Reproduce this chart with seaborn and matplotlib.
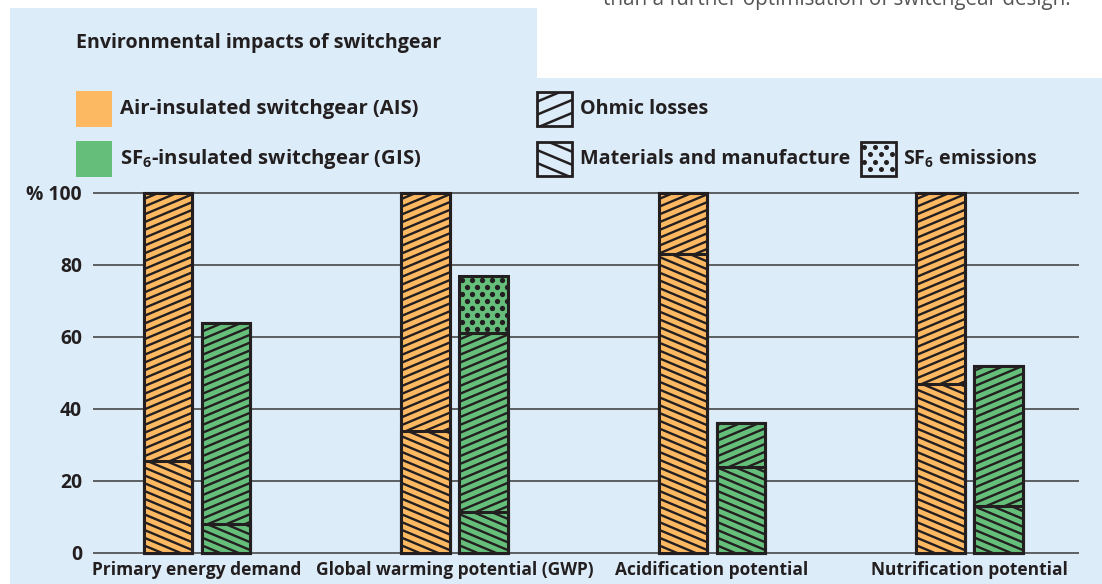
import numpy as np
import pandas as pd
import seaborn as sns
import matplotlib.pyplot as plt
from matplotlib.collections import LineCollection
from matplotlib.lines import Line2D
from matplotlib.patches import Rectangle
from matplotlib.transforms import IdentityTransform

W, H = 1102, 584

categories = ['Primary energy demand', 'Global warming potential (GWP)',
              'Acidification potential', 'Nutrification potential']
switchgear = ['AIS', 'GIS']
# values in % of AIS total, bottom to top: materials, ohmic losses, SF6 emissions
materials_ais = [25.5, 34, 83, 47]
ohmic_ais = [74.5, 66, 17, 53]
sf6_ais = [0, 0, 0, 0]
materials_gis = [8, 11.5, 24, 13]
ohmic_gis = [56, 49.5, 12, 39]
sf6_gis = [0, 16, 0, 0]
yticks = [0, 20, 40, 60, 80, 100]
ytick_labels = ['0', '20', '40', '60', '80', '% 100']

ORANGE = '#fdb962'
GREEN = '#65bf7b'
BLUE = '#dcecf8'
INK = '#231f20'
SLOPE = 0.42
FONT = 'Open Sans'

rows = []
for sg, parts in [('AIS', (materials_ais, ohmic_ais, sf6_ais)),
                  ('GIS', (materials_gis, ohmic_gis, sf6_gis))]:
    for i, cat in enumerate(categories):
        cum = 0
        for comp, vals in zip(['materials', 'ohmic', 'sf6'], parts):
            cum += vals[i]
            rows.append({'category': cat, 'switchgear': sg, 'component': comp, 'top': cum})
df = pd.DataFrame(rows)

sns.set_style('white')
plt.rcParams['font.family'] = [FONT, 'DejaVu Sans']
plt.rcParams['mathtext.fontset'] = 'custom'
plt.rcParams['mathtext.bf'] = FONT + ':bold'
plt.rcParams['mathtext.rm'] = FONT + ':bold'

fig = plt.figure(figsize=(W / 100, H / 100), dpi=100)
fig.patch.set_facecolor('white')


def fx(x):
    return x / W


def fy(y):
    return 1 - y / H


# background panel with the white cut-out at the top right
fig.add_artist(Rectangle((fx(10), 0), 1 - fx(10), fy(8), transform=fig.transFigure,
                         facecolor=BLUE, edgecolor='none', zorder=-10))
fig.add_artist(Rectangle((fx(537), fy(78)), 1 - fx(537), 1 - fy(78), transform=fig.transFigure,
                         facecolor='white', edgecolor='none', zorder=-9))
fig.text(fx(603), fy(5), 'than a further optimisation of switchgear design.',
         fontsize=14.9, color='#555555', va='baseline', ha='left', fontweight='normal')

ymin, ymax = -1, 101.5
px_unit = (553 - 193) / 100
ax_bottom = H - (553 + px_unit * (0 - ymin))
ax_top = H - (193 - px_unit * (ymax - 100))
ax = fig.add_axes([fx(93), ax_bottom / H, fx(1079) - fx(93), (ax_top - ax_bottom) / H])
ax.set_facecolor('none')

hatch_of = {'sf6': 'dots', 'ohmic': 'up', 'materials': 'down'}
layers = []
for z, comp in zip([2, 3, 4], ['sf6', 'ohmic', 'materials']):
    n0 = len(ax.patches)
    sns.barplot(data=df[df['component'] == comp], x='category', y='top', hue='switchgear',
                order=categories, hue_order=switchgear,
                palette={'AIS': ORANGE, 'GIS': GREEN}, saturation=1,
                width=0.4505, gap=0.156, errorbar=None, legend=False,
                edgecolor=INK, linewidth=2.2, zorder=z, ax=ax)
    layers.append((comp, z, ax.patches[n0:]))

grp = 257.5
ax.set_xlim(-(197 - 93) / grp, 3 + (1079 - 969.5) / grp)
ax.set_ylim(ymin, ymax)
ax.set_yticks(yticks)
ax.set_yticklabels(ytick_labels)
ax.set_xlabel('')
ax.set_ylabel('')
ax.tick_params(axis='both', length=0)
ax.tick_params(axis='y', pad=8, labelsize=13.9)
ax.tick_params(axis='x', pad=3, labelsize=12.5)
for lab in ax.get_xticklabels() + ax.get_yticklabels():
    lab.set_fontweight('bold')
    lab.set_color(INK)
for s in ax.spines.values():
    s.set_visible(False)
ax.yaxis.grid(True, color='#3a3a3a', linewidth=1.1)
ax.set_axisbelow(True)


def add_lines(artist, sign, step, container, zorder, lw=1.7):
    bb = artist.get_window_extent()
    rise = SLOPE * bb.width
    segs = []
    for c in np.arange(bb.y0 - rise, bb.y1 + rise, step):
        if sign > 0:
            segs.append([(bb.x0, c), (bb.x1, c + rise)])
        else:
            segs.append([(bb.x0, c + rise), (bb.x1, c)])
    lc = LineCollection(segs, colors=INK, linewidths=lw, transform=IdentityTransform(), zorder=zorder)
    container.add_artist(lc)
    lc.set_clip_path(artist)


def add_dots(artist, container, zorder, dx, dy, size):
    bb = artist.get_window_extent()
    xs, ys = [], []
    for i, y in enumerate(np.arange(bb.y1 - dy * 0.6, bb.y0, -dy)):
        shift = dx / 2 if i % 2 else 0
        for x in np.arange(bb.x0 + dx * 0.3 + shift, bb.x1, dx):
            xs.append(x)
            ys.append(y)
    dots = Line2D(xs, ys, ls='none', marker='o', ms=size, mew=0, color=INK,
                  transform=IdentityTransform(), zorder=zorder)
    container.add_artist(dots)
    dots.set_clip_path(artist)


for comp, z, patches in layers:
    for p in patches:
        if p.get_height() <= 0:
            continue
        if hatch_of[comp] == 'dots':
            add_dots(p, ax, z + 0.5, 10, 7, 3.8)
        else:
            add_lines(p, 1 if hatch_of[comp] == 'up' else -1, 7.8, ax, z + 0.5)

# title and legend
fig.text(fx(76), fy(43), 'Environmental impacts of switchgear', fontsize=14.15,
         fontweight='bold', color=INK, va='center', ha='left')

for y0, color in [(91, ORANGE), (141, GREEN)]:
    fig.add_artist(Rectangle((fx(76), fy(y0 + 36)), fx(36), 36 / H, transform=fig.transFigure,
                             facecolor=color, edgecolor='none'))
fig.text(fx(120), fy(109), 'Air-insulated switchgear (AIS)', fontsize=14.6,
         fontweight='bold', color=INK, va='center', ha='left')
fig.text(fx(120), fy(159), r'SF$_{\mathbf{6}}$-insulated switchgear (GIS)', fontsize=14.6,
         fontweight='bold', color=INK, va='center', ha='left')

swatches = [(537, 92, 'up', 'Ohmic losses', 580),
            (537, 142, 'down', 'Materials and manufacture', 580),
            (861, 142, 'dots', r'SF$_{\mathbf{6}}$ emissions', 903)]
for x0, y0, kind, label, tx in swatches:
    box = Rectangle((fx(x0), fy(y0 + 34)), fx(35), 34 / H, transform=fig.transFigure,
                    facecolor='none', edgecolor=INK, linewidth=2.0, zorder=5)
    fig.add_artist(box)
    if kind == 'dots':
        add_dots(box, fig, 4, 11, 7.5, 3.6)
    else:
        add_lines(box, 1 if kind == 'up' else -1, 13, fig, 4, lw=1.8)
    fig.text(fx(tx), fy(y0 + 17), label, fontsize=14.2, fontweight='bold', color=INK,
             va='center', ha='left')

fig.savefig('out.png', dpi=100)
